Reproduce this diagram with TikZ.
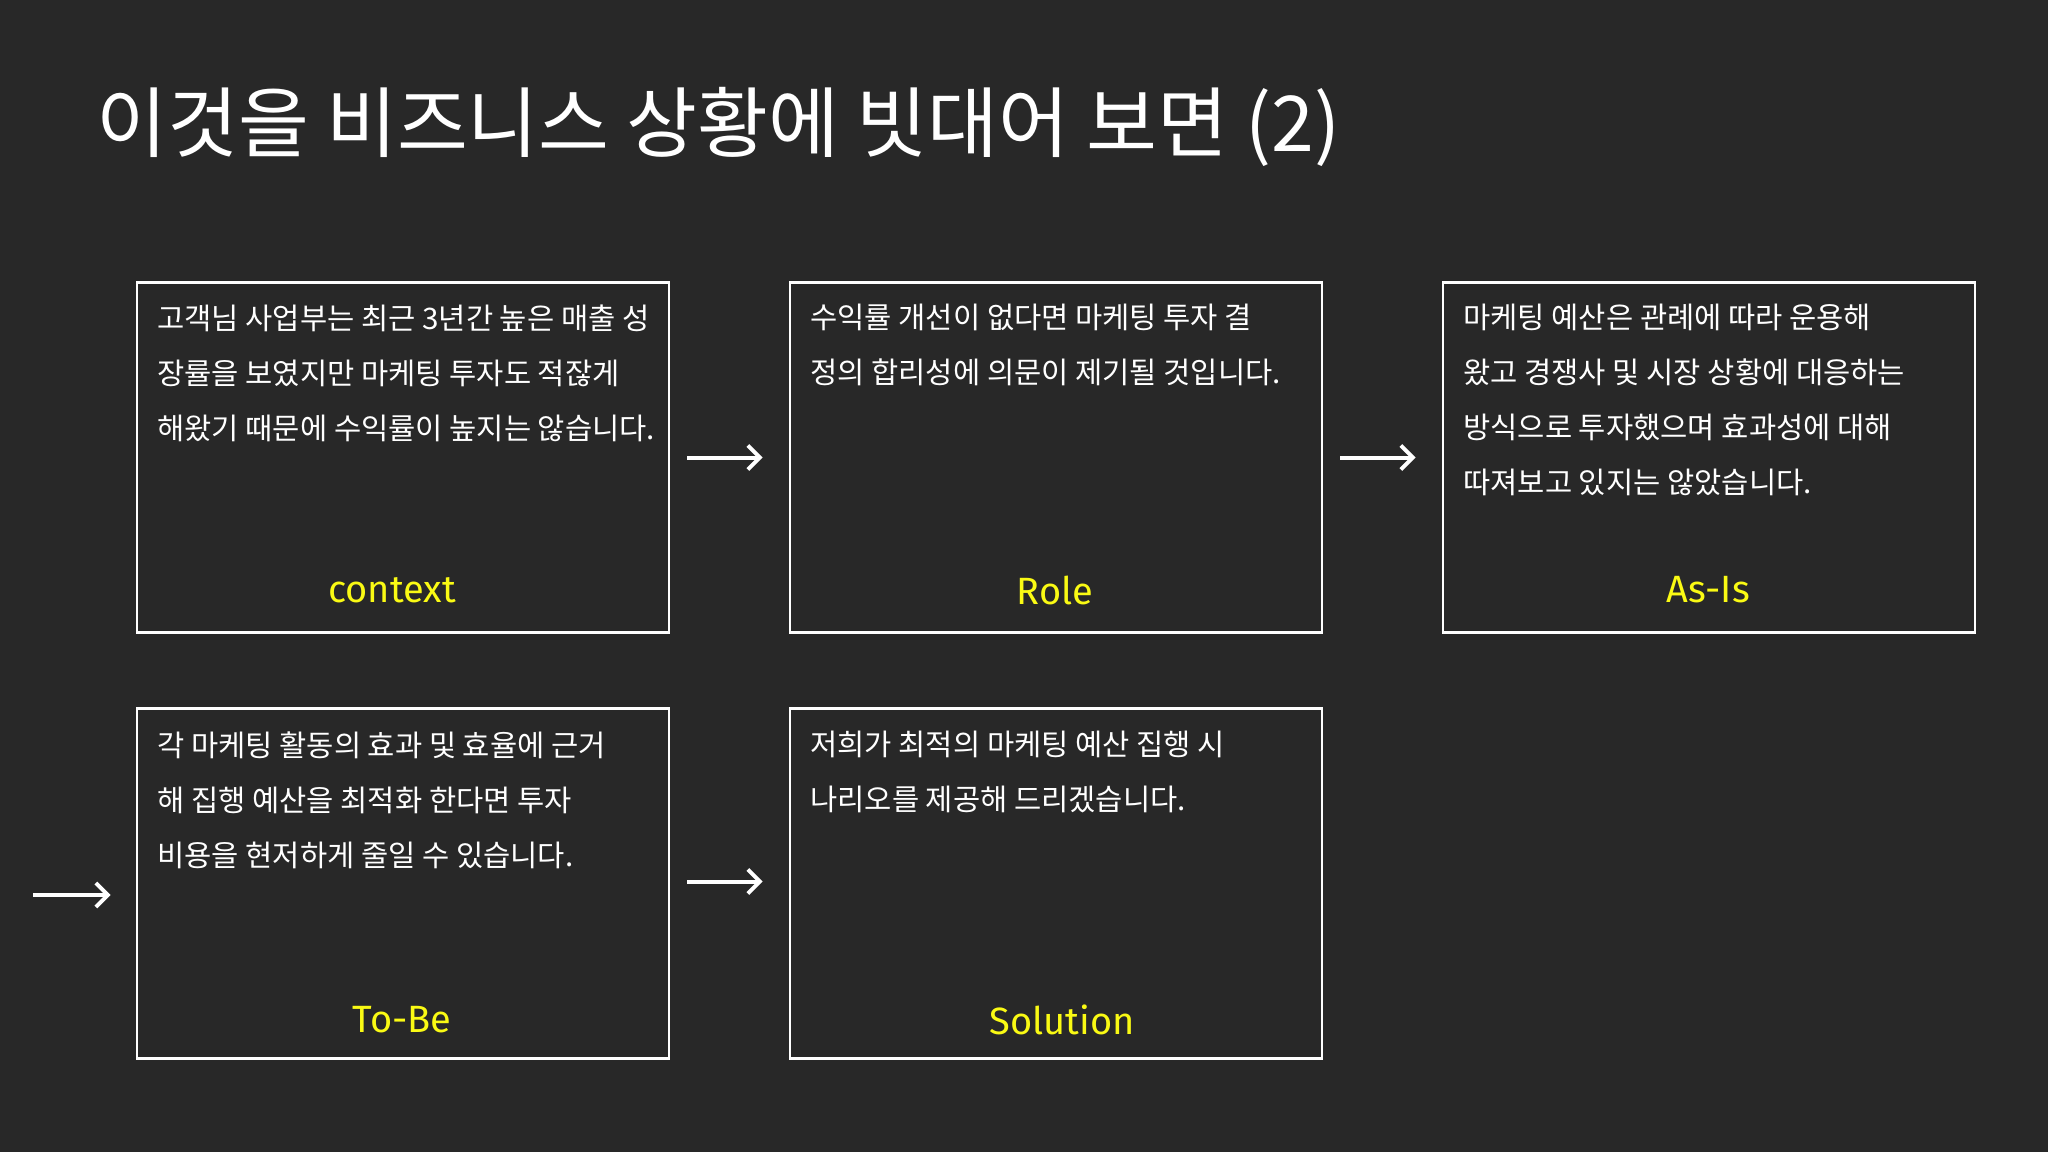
\documentclass[tikz,border=0pt]{standalone}
\usepackage{fontspec}
\usetikzlibrary{arrows.meta}
\newfontfamily\kr{Noto Sans CJK KR}
\newfontfamily\lab{Fira Sans}
\definecolor{board}{RGB}{40,40,40}
\definecolor{chalkyellow}{RGB}{250,250,20}
\tikzset{
  stagebox/.style={draw=white, line width=1.3pt, minimum width=266pt, minimum height=175pt, inner sep=0pt},
  bodytext/.style={anchor=north west, inner sep=0pt, align=left, text=white, font=\kr\fontsize{14.8}{27.5}\selectfont},
  stagelabel/.style={text=chalkyellow, inner sep=0pt, font=\lab\fontsize{19}{22}\selectfont},
  flow/.style={draw=white, line width=2pt, -{Straight Barb[length=6pt,width=12pt,line width=2pt]}}
}
\begin{document}
\begin{tikzpicture}[x=0.5pt,y=-0.5pt]
\fill[board] (0,0) rectangle (2048,1152);
\useasboundingbox (0,0) rectangle (2048,1152);

\node[anchor=west, inner sep=0pt, text=white, font=\kr\fontsize{38.5}{44}\selectfont] (title) at (96,127) {이것을 비즈니스 상황에 빗대어 보면 (2)};

\node[stagebox] (b1) at (403,457.5) {};
\node[stagebox] (b2) at (1056,457.5) {};
\node[stagebox] (b3) at (1709,457.5) {};
\node[stagebox] (b4) at (403,883.5) {};
\node[stagebox] (b5) at (1056,883.5) {};

\node[bodytext] (t1) at (157,304) {고객님 사업부는 최근 3년간 높은 매출 성\\장률을 보였지만 마케팅 투자도 적잖게\\해왔기 때문에 수익률이 높지는 않습니다.};
\node[bodytext] (t2) at (810,304) {수익률 개선이 없다면 마케팅 투자 결\\정의 합리성에 의문이 제기될 것입니다.};
\node[bodytext] (t3) at (1463,304) {마케팅 예산은 관례에 따라 운용해\\왔고 경쟁사 및 시장 상황에 대응하는\\방식으로 투자했으며 효과성에 대해\\따져보고 있지는 않았습니다.};
\node[bodytext] (t4) at (157,731) {각 마케팅 활동의 효과 및 효율에 근거\\해 집행 예산을 최적화 한다면 투자\\비용을 현저하게 줄일 수 있습니다.};
\node[bodytext] (t5) at (810,731) {저희가 최적의 마케팅 예산 집행 시\\나리오를 제공해 드리겠습니다.};

\node[stagelabel] (l1) at (392,590) {context};
\node[stagelabel] (l2) at (1055,590) {Role};
\node[stagelabel] (l3) at (1708,590) {As-Is};
\node[stagelabel] (l4) at (402,1020) {To-Be};
\node[stagelabel] (l5) at (1062,1020) {Solution};

\draw[flow, shorten <=8.5pt, shorten >=13pt] (b1.east) -- (b2.west);
\draw[flow, shorten <=8.5pt, shorten >=13pt] (b2.east) -- (b3.west);
\draw[flow, shorten <=8.5pt, shorten >=13pt] ([yshift=1pt]b4.east) -- ([yshift=1pt]b5.west);
\coordinate (in4) at (33,895);
\draw[flow, shorten >=12.5pt] (in4) -- (b4.west |- in4);
\end{tikzpicture}
\end{document}
